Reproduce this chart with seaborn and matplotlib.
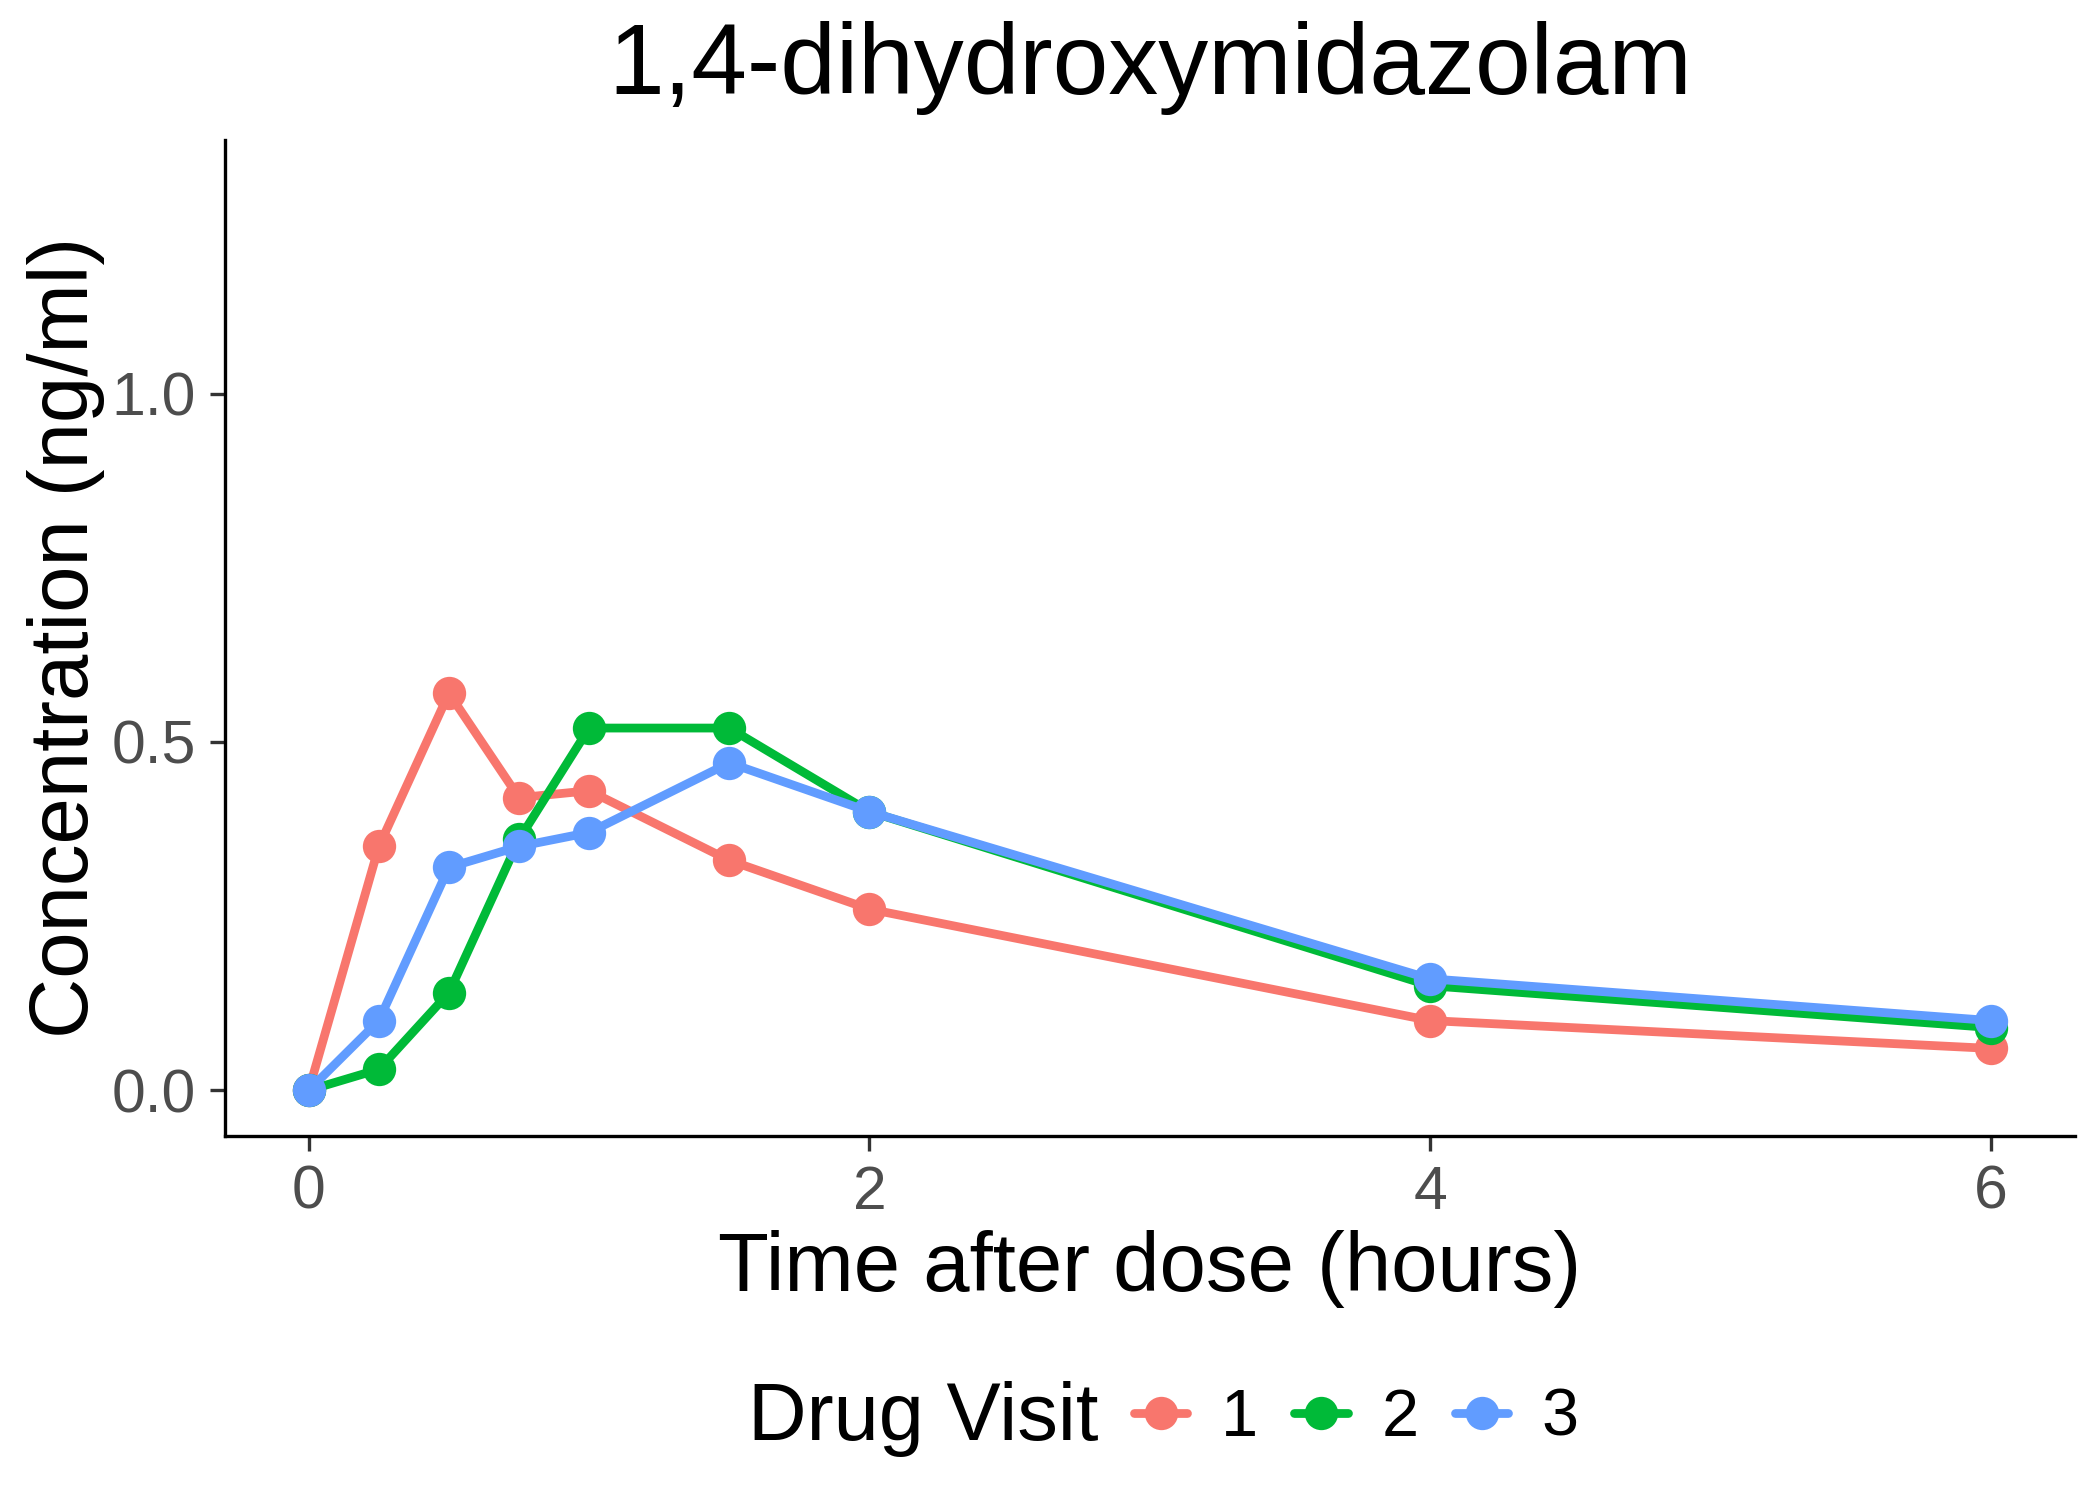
import pandas as pd
import matplotlib.pyplot as plt
import seaborn as sns
from matplotlib.lines import Line2D

time_h = [0, 0.25, 0.5, 0.75, 1.0, 1.5, 2, 4, 6]
visit1 = [0, 0.35, 0.57, 0.42, 0.43, 0.33, 0.26, 0.10, 0.06]
visit2 = [0, 0.03, 0.14, 0.36, 0.52, 0.52, 0.40, 0.15, 0.09]
visit3 = [0, 0.10, 0.32, 0.35, 0.37, 0.47, 0.40, 0.16, 0.10]
visits = ['1', '2', '3']
colors = ['#F8766D', '#00BA38', '#619CFF']


def main():
    df = pd.concat([
        pd.DataFrame({'time': time_h, 'conc': vals, 'visit': v})
        for v, vals in zip(visits, [visit1, visit2, visit3])
    ])

    sns.set_style('white')
    plt.rcParams['font.family'] = ['Liberation Sans', 'DejaVu Sans']
    plt.rcParams['text.color'] = 'black'
    plt.rcParams['axes.labelcolor'] = 'black'

    fig = plt.figure(figsize=(7, 5), dpi=300)
    ax = fig.add_axes([0.107, 0.243, 0.881, 0.664])

    sns.lineplot(data=df, x='time', y='conc', hue='visit', hue_order=visits,
                 palette=colors, marker='o', markersize=8, markeredgewidth=0,
                 linewidth=2.1, ax=ax, legend=False)

    ax.set_xlim(-0.3, 6.3)
    ax.set_ylim(-0.065, 1.365)
    ax.set_xticks([0, 2, 4, 6])
    ax.set_yticks([0.0, 0.5, 1.0])
    ax.set_yticklabels(['0.0', '0.5', '1.0'])
    ax.tick_params(axis='both', labelsize=14.6, labelcolor='#4D4D4D',
                   color='#333333', length=3.5, width=0.8, direction='out',
                   bottom=True, left=True)
    for s in ['top', 'right']:
        ax.spines[s].set_visible(False)
    for s in ['left', 'bottom']:
        ax.spines[s].set_color('black')
        ax.spines[s].set_linewidth(0.8)

    ax.set_xlabel('Time after dose (hours)', fontsize=20, labelpad=2)
    ax.set_ylabel('Concentration (ng/ml)', fontsize=20, labelpad=1.5)
    ax.set_title('1,4-dihydroxymidazolam', fontsize=24, pad=11)

    handles = [Line2D([], [], color=c, marker='o', markersize=8,
                      markeredgewidth=0, linewidth=2.1) for c in colors]
    fig.text(0.523, 0.054, 'Drug Visit', fontsize=19.5, ha='right', va='center')
    fig.legend(handles, visits, loc='center left', bbox_to_anchor=(0.54, 0.054),
               ncol=3, frameon=False, fontsize=16, handlelength=0.8,
               handletextpad=0.5, columnspacing=0.55, borderaxespad=0,
               borderpad=0)

    fig.savefig('out.png', dpi=300)
    plt.close('all')


if __name__ == '__main__':
    main()
